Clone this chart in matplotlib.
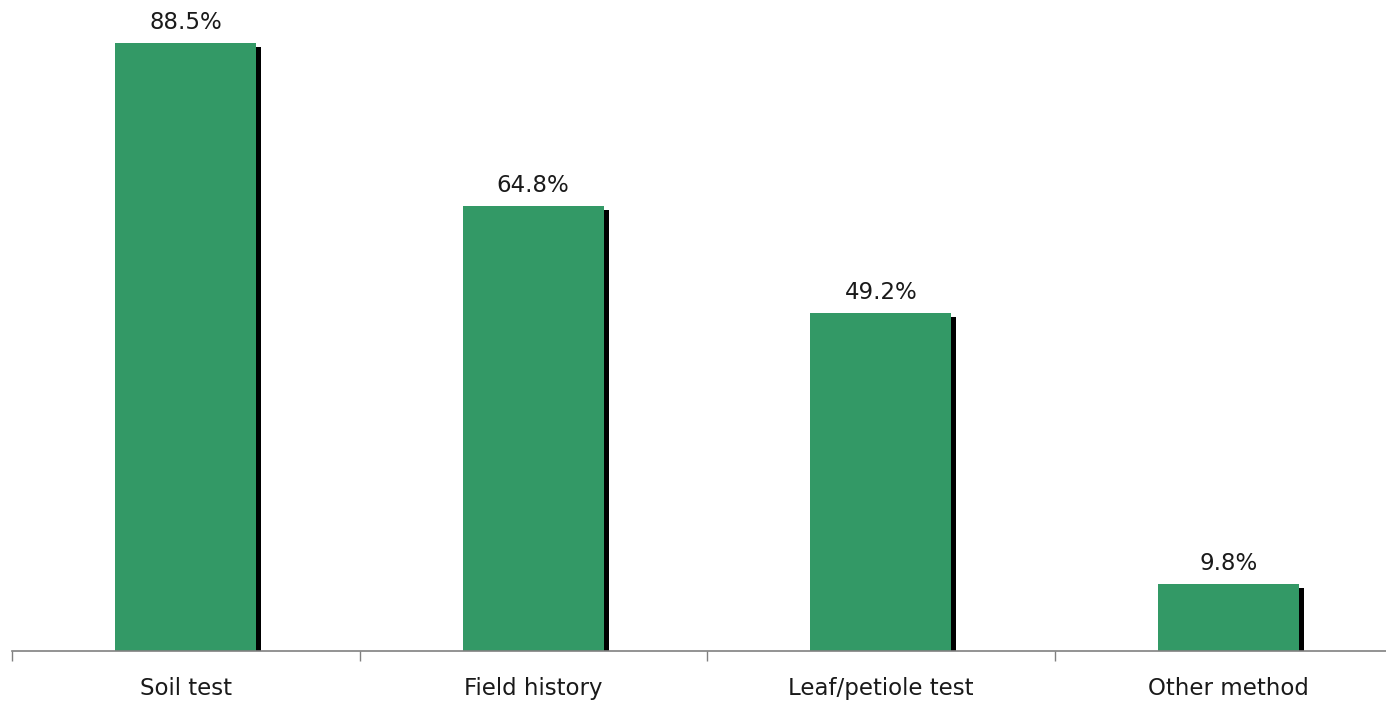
import matplotlib
matplotlib.use("Agg")
import matplotlib.pyplot as plt
from matplotlib.patches import Rectangle

categories = ["Soil test", "Field history", "Leaf/petiole test", "Other method"]
values = [88.5, 64.8, 49.2, 9.8]
labels = ["88.5%", "64.8%", "49.2%", "9.8%"]

W, H = 1386, 702
fig = plt.figure(figsize=(W / 100, H / 100), dpi=100)
ax = fig.add_axes([12 / W, 1 - 651 / H, 1390 / W, 651 / H])

n = len(categories)
x = list(range(n))
bw = 0.405
green = "#339966"
fs = 16.5

# shadow bars
for xi, v in zip(x, values):
    ax.add_patch(Rectangle((xi - bw / 2 + 0.0145, 0), bw, v - 0.58,
                           facecolor="black", edgecolor="none", zorder=1))
ax.bar(x, values, width=bw, color=green, zorder=2)

for xi, v, lab in zip(x, values, labels):
    ax.annotate(lab, (xi, v), xytext=(0, 10), textcoords="offset points",
                ha="center", va="baseline", fontsize=fs, color="#1a1a1a",
                family="DejaVu Sans")

ax.set_xlim(-0.5, n - 0.5)
ax.set_ylim(0, 651 / 6.87)
for s in ["top", "right", "left"]:
    ax.spines[s].set_visible(False)
ax.spines["bottom"].set_color("#808080")
ax.spines["bottom"].set_linewidth(1.2)
ax.set_yticks([])
ax.set_xticks([i - 0.5 for i in range(n)], minor=False)
ax.set_xticklabels([])
ax.set_xticks(x, minor=True)
ax.set_xticklabels(categories, minor=True, fontsize=fs, color="#1a1a1a")
ax.tick_params(axis="x", which="major", length=7, color="#808080", width=1)
ax.tick_params(axis="x", which="minor", length=0, pad=18.5)

fig.savefig("out.png", dpi=100)
